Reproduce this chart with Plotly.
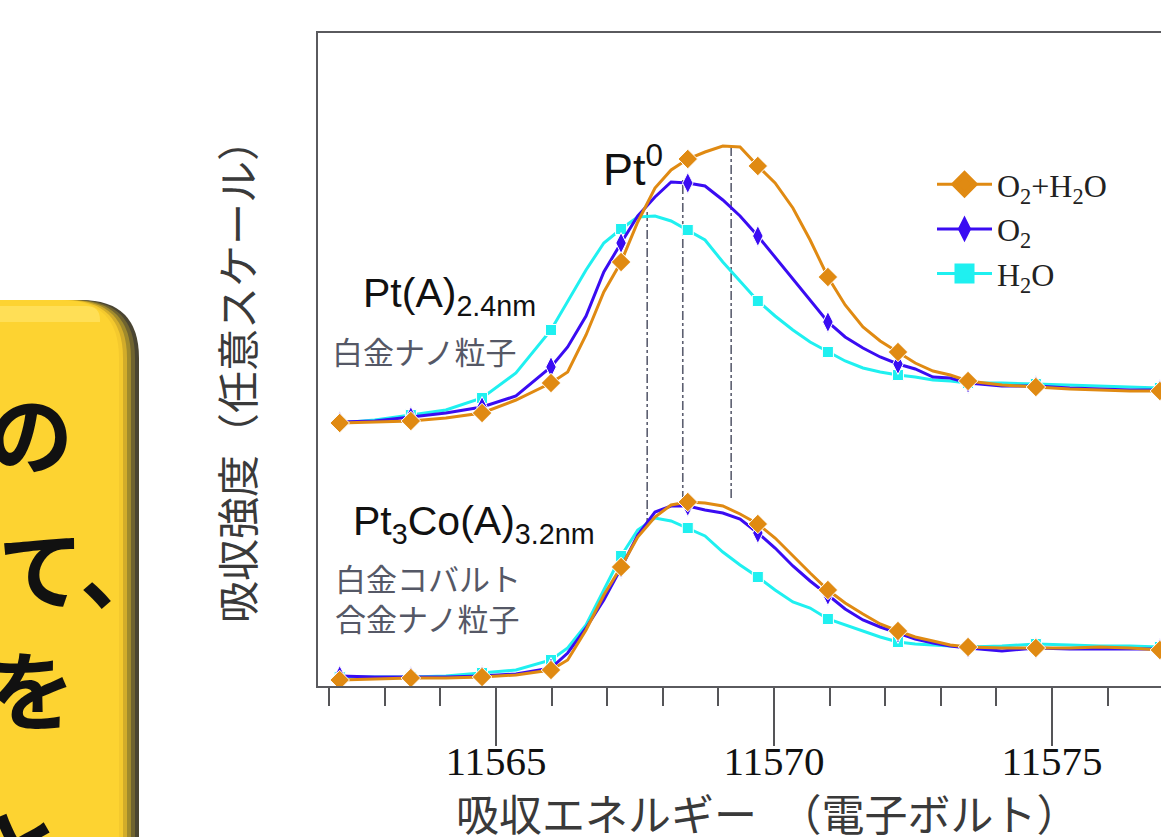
import plotly.graph_objects as go

W, H = 1161, 837

# ---------------- data ----------------
energy = [11562.19, 11562.82, 11563.47, 11564.10, 11564.75, 11565.36, 11565.99, 11566.29,
          11566.62, 11566.94, 11567.25, 11567.55, 11567.86, 11568.15, 11568.45, 11568.76,
          11569.08, 11569.39, 11569.71, 11570.02, 11570.34, 11570.65, 11570.97, 11571.28,
          11571.60, 11571.91, 11572.23, 11572.54, 11572.86, 11573.17, 11573.49, 11574.10,
          11574.71, 11575.32, 11575.86, 11576.40, 11576.94]

marker_energy = [11562.19, 11563.47, 11564.75, 11565.99, 11567.25, 11568.45, 11569.71,
                 11570.97, 11572.23, 11573.49, 11574.71, 11576.94]

# Pt(A) 2.4nm (upper curves, arbitrary units incl. vertical offset)
pt_o2h2o = [2.60, 2.61, 2.62, 2.65, 2.70, 2.83, 3.00, 3.11, 3.48, 3.91, 4.21, 4.61, 4.95, 5.13,
            5.24, 5.31, 5.37, 5.36, 5.17, 5.00, 4.75, 4.43, 4.06, 3.78, 3.56, 3.42, 3.31, 3.20,
            3.12, 3.08, 3.02, 2.98, 2.96, 2.94, 2.93, 2.92, 2.92]
pt_o2 = [2.61, 2.62, 2.66, 2.70, 2.76, 2.87, 3.16, 3.36, 3.67, 4.11, 4.40, 4.67, 4.86, 5.01,
         5.00, 4.97, 4.83, 4.67, 4.47, 4.26, 4.04, 3.83, 3.61, 3.46, 3.35, 3.26, 3.19, 3.14,
         3.06, 3.05, 3.00, 2.97, 2.97, 2.95, 2.94, 2.93, 2.93]
pt_h2o = [2.60, 2.63, 2.68, 2.73, 2.85, 3.10, 3.53, 3.81, 4.13, 4.40, 4.54, 4.66, 4.67, 4.62,
          4.53, 4.43, 4.21, 4.02, 3.82, 3.67, 3.53, 3.41, 3.31, 3.22, 3.15, 3.11, 3.08, 3.06,
          3.03, 3.02, 3.00, 3.00, 2.99, 2.98, 2.97, 2.96, 2.95]

# Pt3Co(A) 3.2nm (lower curves)
ptco_o2h2o = [0.03, 0.04, 0.05, 0.05, 0.06, 0.08, 0.13, 0.23, 0.53, 0.88, 1.16, 1.46, 1.66, 1.78,
              1.81, 1.80, 1.77, 1.69, 1.59, 1.45, 1.27, 1.10, 0.93, 0.80, 0.69, 0.59, 0.52, 0.46,
              0.42, 0.38, 0.36, 0.35, 0.35, 0.35, 0.36, 0.35, 0.33]
ptco_o2 = [0.07, 0.06, 0.06, 0.06, 0.07, 0.09, 0.15, 0.30, 0.55, 0.83, 1.15, 1.48, 1.71, 1.77,
           1.77, 1.73, 1.70, 1.64, 1.50, 1.35, 1.17, 1.02, 0.88, 0.74, 0.63, 0.56, 0.50, 0.44,
           0.40, 0.37, 0.35, 0.32, 0.35, 0.34, 0.34, 0.34, 0.34]
ptco_h2o = [0.06, 0.06, 0.06, 0.07, 0.10, 0.13, 0.23, 0.35, 0.58, 0.93, 1.27, 1.53, 1.65, 1.62,
            1.55, 1.47, 1.31, 1.18, 1.06, 0.93, 0.81, 0.75, 0.64, 0.58, 0.52, 0.46, 0.41, 0.39,
            0.38, 0.37, 0.36, 0.37, 0.39, 0.38, 0.37, 0.37, 0.36]

series_names = ["O<sub>2</sub>+H<sub>2</sub>O", "O<sub>2</sub>", "H<sub>2</sub>O"]

# Pt0 peak reference lines: energy, top value, bottom value
peak_energy = [11567.72, 11568.36, 11569.23]
peak_top = [4.71, 5.03, 5.38]
peak_bottom = [1.56, 1.83, 1.85]

x_range = [11561.80, 11576.96]
y_range = [-0.03, 6.50]
x_tick_major = 5
x_tick_minor = 1

# ---------------- styling ----------------
colors = {"O<sub>2</sub>+H<sub>2</sub>O": "#E08A12",
          "O<sub>2</sub>": "#3A0CF2",
          "H<sub>2</sub>O": "#1FF0F0"}
symbols = {"O<sub>2</sub>+H<sub>2</sub>O": "diamond",
           "O<sub>2</sub>": "diamond-tall",
           "H<sub>2</sub>O": "square"}
msize = {"O<sub>2</sub>+H<sub>2</sub>O": 15,
         "O<sub>2</sub>": 15,
         "H<sub>2</sub>O": 11}
legend_outline = {"O<sub>2</sub>+H<sub>2</sub>O": 5,
                  "O<sub>2</sub>": 2,
                  "H<sub>2</sub>O": 4}


def px(x):
    return x / W


def py(y):
    return 1 - y / H


fig = go.Figure()

panels = [
    {"O<sub>2</sub>+H<sub>2</sub>O": pt_o2h2o, "O<sub>2</sub>": pt_o2, "H<sub>2</sub>O": pt_h2o},
    {"O<sub>2</sub>+H<sub>2</sub>O": ptco_o2h2o, "O<sub>2</sub>": ptco_o2, "H<sub>2</sub>O": ptco_h2o},
]

draw_order = ["H<sub>2</sub>O", "O<sub>2</sub>", "O<sub>2</sub>+H<sub>2</sub>O"]
for panel in panels:
    for name in draw_order:
        sizes = [msize[name] if e in marker_energy else 0 for e in energy]
        fig.add_trace(go.Scatter(
            x=energy, y=panel[name], mode="lines+markers",
            line=dict(color=colors[name], width=3),
            marker=dict(symbol=symbols[name], size=sizes, color=colors[name], opacity=1),
            showlegend=False, hoverinfo="skip"))

# legend entries
for name in series_names:
    fig.add_trace(go.Scatter(
        x=[None], y=[None], mode="lines+markers", name=name,
        line=dict(color=colors[name], width=3),
        marker=dict(symbol=symbols[name], size=16, color=colors[name], opacity=1,
                    line=dict(color=colors[name], width=legend_outline[name]))))

shapes = []
for e, t, b in zip(peak_energy, peak_top, peak_bottom):
    shapes.append(dict(type="line", xref="x", yref="y", x0=e, x1=e, y0=b, y1=t,
                       line=dict(color="#5c5f70", width=1.6, dash="dashdot"), layer="below"))


# yellow rounded callout box at left (cut by the frame)
def box_path(x0, x1, ytop, ybot, r):
    return (f"M {px(x0)},{py(ybot)} L {px(x0)},{py(ytop)} L {px(x1 - r)},{py(ytop)} "
            f"Q {px(x1)},{py(ytop)} {px(x1)},{py(ytop + r)} L {px(x1)},{py(ybot)} Z")


box_layers = [(139, "#4a4532"), (135, "#6f6330"), (131, "#a08a2c"),
              (127, "#d2ac2a"), (123, "#f4c92e"), (119, "#FDD331")]
for right, col in box_layers:
    shapes.append(dict(type="path", xref="paper", yref="paper",
                       path=box_path(-30, right, 300, 900, 58),
                       fillcolor=col, line=dict(width=0), layer="above"))
shapes.append(dict(type="path", xref="paper", yref="paper",
                   path=box_path(-30, 100, 306, 322, 14),
                   fillcolor="#FFE466", opacity=0.7, line=dict(width=0), layer="above"))

annotations = []
# callout text (partially visible)
for txt, xr, yc in [("の", 75, 430), ("て、", 168, 565), ("を", 77, 686), ("と", 66, 845)]:
    annotations.append(dict(text=f"<b>{txt}</b>", xref="paper", yref="paper",
                            x=px(xr), y=py(yc), xanchor="right", yanchor="middle",
                            showarrow=False,
                            font=dict(family="Noto Sans CJK JP", size=86, color="#111111")))

label_font = dict(family="Liberation Sans, Arial", size=41, color="#111111")
annotations += [
    dict(text="Pt<sup>0</sup>", xref="paper", yref="paper", x=px(601), y=py(166),
         xanchor="left", yanchor="middle", showarrow=False,
         font=dict(family="Liberation Sans, Arial", size=45, color="#111111")),
    dict(text="Pt(A)<sub>2.4nm</sub>", xref="paper", yref="paper", x=px(361), y=py(296),
         xanchor="left", yanchor="middle", showarrow=False, font=label_font),
    dict(text="白金ナノ粒子", xref="paper", yref="paper", x=px(330), y=py(350),
         xanchor="left", yanchor="middle", showarrow=False,
         font=dict(family="Noto Sans CJK JP", size=31, color="#555866")),
    dict(text="Pt<sub>3</sub>Co(A)<sub>3.2nm</sub>", xref="paper", yref="paper", x=px(351),
         y=py(524), xanchor="left", yanchor="middle", showarrow=False, font=label_font),
    dict(text="白金コバルト<br>合金ナノ粒子", xref="paper", yref="paper", x=px(333), y=py(597),
         xanchor="left", yanchor="middle", align="left", showarrow=False,
         font=dict(family="Noto Sans CJK JP", size=31, color="#555866")),
    dict(text="吸収エネルギー　（電子ボルト）", xref="paper", yref="paper", x=px(768), y=py(812),
         xanchor="center", yanchor="middle", showarrow=False,
         font=dict(family="Noto Sans CJK JP", size=43, color="#3a3a3a")),
    dict(text="吸収強度（任意スケール）", xref="paper", yref="paper", x=px(236), y=py(371),
         xanchor="center", yanchor="middle", showarrow=False, textangle=-90,
         font=dict(family="Noto Sans CJK JP", size=42, color="#3a3a3a")),
]

fig.update_layout(
    width=W, height=H,
    margin=dict(l=0, r=0, t=0, b=0),
    paper_bgcolor="white", plot_bgcolor="white",
    showlegend=True,
    legend=dict(x=px(932), y=py(157), xanchor="left", yanchor="top",
                bgcolor="rgba(0,0,0,0)", borderwidth=0, itemwidth=55,
                font=dict(family="Liberation Serif, Times New Roman", size=32, color="#222222"),
                tracegroupgap=0),
    xaxis=dict(domain=[px(318), 1.0], range=x_range, showgrid=False, zeroline=False,
               showline=True, mirror=True, linecolor="#5a5a5e", linewidth=2,
               ticks="outside", ticklen=58, tickwidth=1.6, tickcolor="#555558",
               tick0=11565, dtick=x_tick_major, tickformat="d", ticklabelstandoff=-20,
               tickfont=dict(family="Liberation Serif, Times New Roman", size=41, color="#111111"),
               minor=dict(ticks="outside", ticklen=18, tickwidth=1.6, tickcolor="#555558",
                          tick0=11565, dtick=x_tick_minor, showgrid=False)),
    yaxis=dict(domain=[1 - 686 / H, 1 - 33 / H], range=y_range, showgrid=False, zeroline=False,
               showline=True, mirror=False, linecolor="#5a5a5e", linewidth=2,
               showticklabels=False, ticks=""),
    shapes=shapes,
    annotations=annotations,
)

fig.write_html("out.html", post_script="document.body.style.margin='0px';",
               config={"displayModeBar": False})
